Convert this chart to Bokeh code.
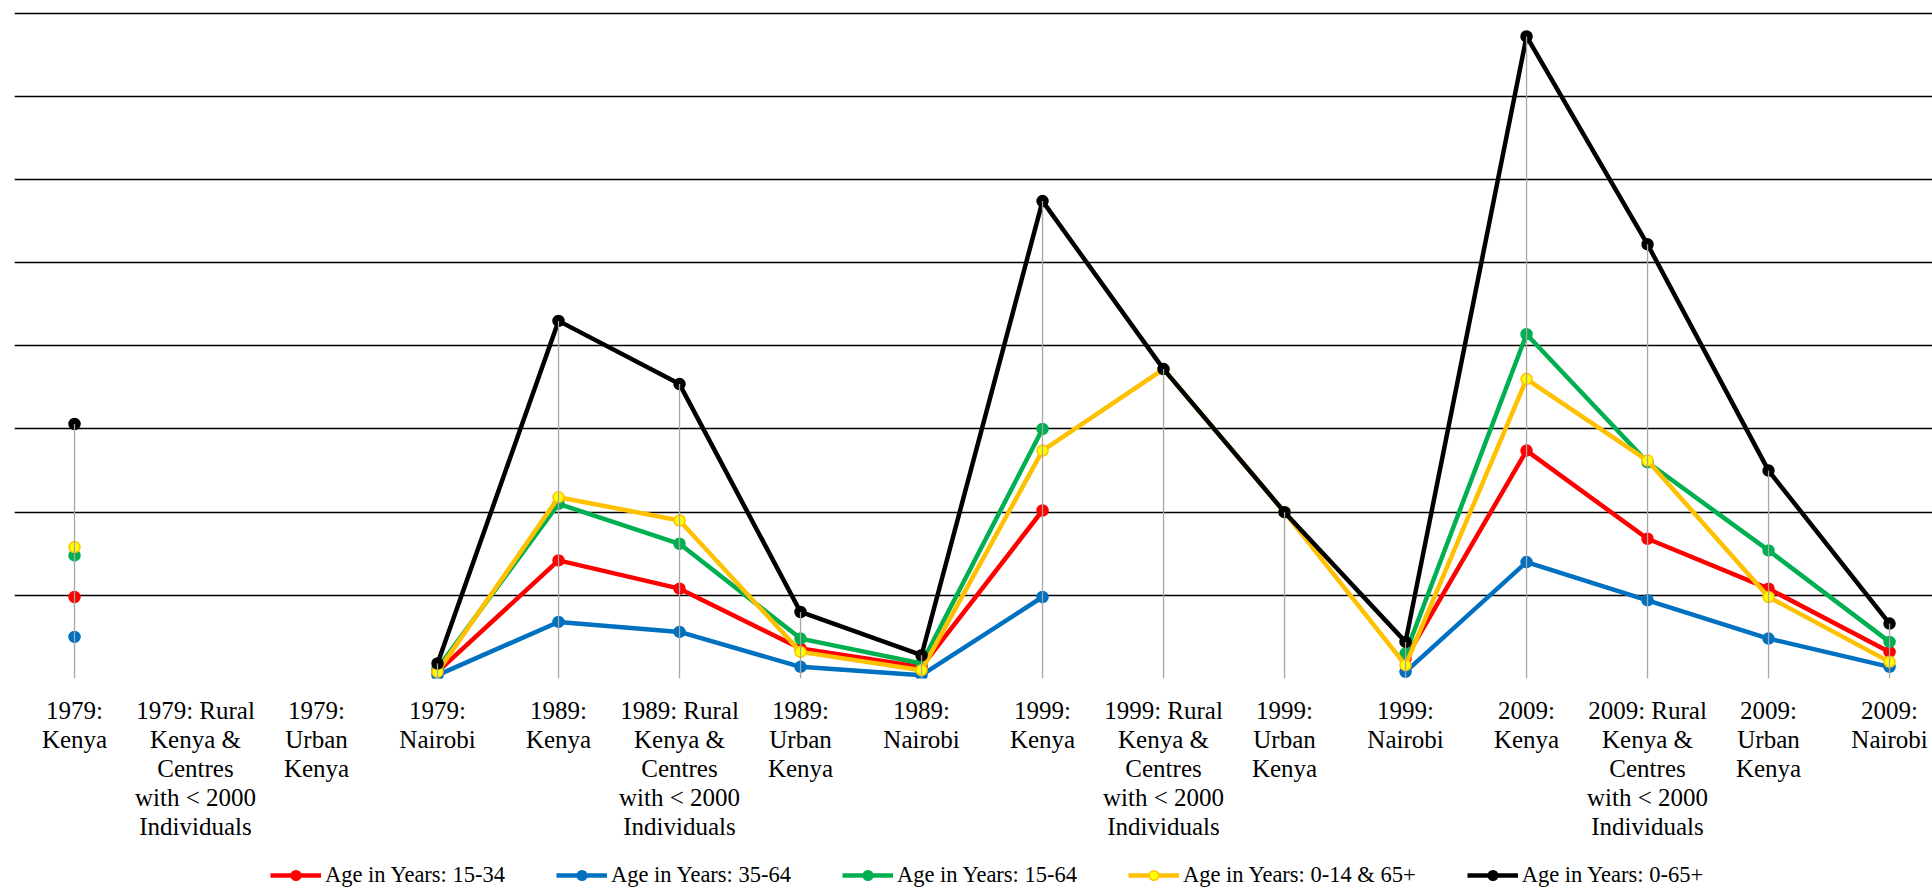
import math
from bokeh.plotting import figure
from bokeh.layouts import column
from bokeh.models import FixedTicker, Legend, LegendItem, Range1d, ColumnDataSource
from bokeh.embed import file_html
from bokeh.resources import INLINE

nan = float("nan")

categories = [
    "1979: Kenya", "1979: Rural Kenya & Centres with < 2000 Individuals", "1979: Urban Kenya", "1979: Nairobi",
    "1989: Kenya", "1989: Rural Kenya & Centres with < 2000 Individuals", "1989: Urban Kenya", "1989: Nairobi",
    "1999: Kenya", "1999: Rural Kenya & Centres with < 2000 Individuals", "1999: Urban Kenya", "1999: Nairobi",
    "2009: Kenya", "2009: Rural Kenya & Centres with < 2000 Individuals", "2009: Urban Kenya", "2009: Nairobi",
]
tick_labels = [
    "1979:\nKenya", "1979: Rural\nKenya &\nCentres\nwith < 2000\nIndividuals", "1979:\nUrban\nKenya", "1979:\nNairobi",
    "1989:\nKenya", "1989: Rural\nKenya &\nCentres\nwith < 2000\nIndividuals", "1989:\nUrban\nKenya", "1989:\nNairobi",
    "1999:\nKenya", "1999: Rural\nKenya &\nCentres\nwith < 2000\nIndividuals", "1999:\nUrban\nKenya", "1999:\nNairobi",
    "2009:\nKenya", "2009: Rural\nKenya &\nCentres\nwith < 2000\nIndividuals", "2009:\nUrban\nKenya", "2009:\nNairobi",
]

# population in millions
age_15_34 = [4.9, nan, nan, 0.4, 7.1, 5.4, 1.8, 0.7, 10.1, nan, nan, 1.2, 13.7, 8.4, 5.4, 1.6]
age_35_64 = [2.5, nan, nan, 0.2, 3.4, 2.8, 0.7, 0.2, 4.9, nan, nan, 0.4, 7.0, 4.7, 2.4, 0.7]
age_15_64 = [7.4, nan, nan, 0.6, 10.5, 8.1, 2.4, 0.9, 15.0, nan, nan, 1.5, 20.7, 13.0, 7.7, 2.2]
age_0_14_65 = [7.9, nan, nan, 0.4, 10.9, 9.5, 1.6, 0.5, 13.7, 18.6, 10.0, 0.8, 18.0, 13.1, 4.9, 1.0]
age_all = [15.3, nan, nan, 0.9, 21.5, 17.7, 4.0, 1.4, 28.7, 18.6, 10.0, 2.2, 38.6, 26.1, 12.5, 3.3]

series_names = ["Age in Years: 15-34", "Age in Years: 35-64", "Age in Years: 15-64",
                "Age in Years: 0-14 & 65+", "Age in Years: 0-65+"]
series_values = [age_15_34, age_35_64, age_15_64, age_0_14_65, age_all]
line_colors = ["#FF0000", "#0070C0", "#00B050", "#FFC000", "#000000"]
marker_fills = ["#FF0000", "#0070C0", "#00B050", "#FFFF00", "#000000"]

y_ticks = [0, 5, 10, 15, 20, 25, 30, 35, 40]

FONT = "Liberation Serif"
LINE_W = 4.5
MARKER = 11

xs = list(range(len(categories)))

p = figure(width=1932, height=850, output_backend="svg", toolbar_location=None,
           x_range=Range1d(-0.496, 15.355), y_range=Range1d(0, 40.28),
           min_border_left=14, min_border_right=0, min_border_top=8, min_border_bottom=172)
p.outline_line_color = None
p.background_fill_color = "white"
p.border_fill_color = "white"

p.yaxis.visible = False
p.xgrid.visible = False
p.ygrid.ticker = FixedTicker(ticks=y_ticks)
p.ygrid.grid_line_color = "#000000"
p.ygrid.grid_line_width = 1.6

ax = p.xaxis[0]
ax.ticker = FixedTicker(ticks=xs)
ax.major_label_overrides = {i: lbl for i, lbl in zip(xs, tick_labels)}
ax.axis_line_color = None
ax.major_tick_line_color = None
ax.minor_tick_line_color = None
ax.major_label_standoff = 12
ax.major_label_text_font = FONT
ax.major_label_text_font_size = "25px"
ax.major_label_text_color = "#000000"
ax.major_label_text_line_height = 1.075

for name, vals, lc, mf in zip(series_names, series_values, line_colors, marker_fills):
    src = ColumnDataSource(dict(x=xs, y=vals))
    p.line("x", "y", source=src, line_color=lc, line_width=LINE_W)
    p.scatter("x", "y", source=src, size=MARKER, fill_color=mf, line_color=lc, line_width=1.5)

# drop lines from the highest point of each category
drop_x, drop_top = [], []
for i in xs:
    v = [s[i] for s in series_values if not math.isnan(s[i])]
    if v:
        drop_x.append(i)
        drop_top.append(max(v))
p.segment(x0=drop_x, y0=[0] * len(drop_x), x1=drop_x, y1=drop_top, line_color="#A6A6A6", line_width=1.3)

# legend strip below the chart (same series, ranges set so that only the legend shows)
q = figure(width=1932, height=41, output_backend="svg", toolbar_location=None,
           x_range=Range1d(100, 101), y_range=Range1d(100, 101),
           min_border_left=0, min_border_right=0, min_border_top=0, min_border_bottom=0)
q.outline_line_color = None
q.axis.visible = False
q.grid.visible = False
items = []
for name, vals, lc, mf in zip(series_names, series_values, line_colors, marker_fills):
    src = ColumnDataSource(dict(x=xs, y=vals))
    lr = q.line("x", "y", source=src, line_color=lc, line_width=LINE_W)
    sr = q.scatter("x", "y", source=src, size=MARKER, fill_color=mf, line_color=lc, line_width=1.5)
    items.append(LegendItem(label=name, renderers=[lr, sr]))

legend = Legend(items=items, orientation="horizontal", location=(256, 3),
                label_text_font=FONT, label_text_font_size="22.5px", label_text_color="#000000",
                glyph_width=51, glyph_height=24, label_height=24, label_standoff=4, spacing=51,
                padding=0, margin=0, border_line_color=None, background_fill_alpha=0)
q.add_layout(legend, "center")

layout = column(p, q, spacing=0)
open("out.html", "w").write(file_html(layout, INLINE))
